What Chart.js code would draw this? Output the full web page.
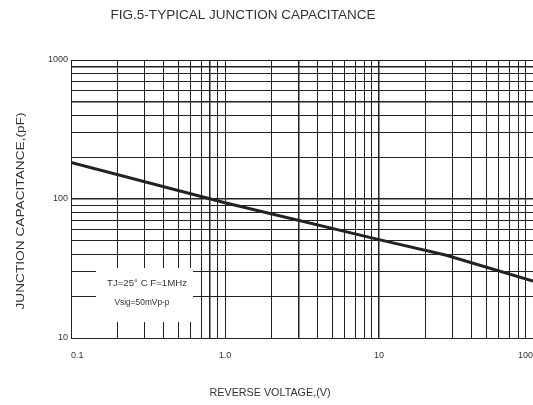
<!DOCTYPE html>
<html>
<head>
<meta charset="utf-8">
<script src="https://cdn.jsdelivr.net/npm/chart.js@4/dist/chart.umd.min.js"></script>
<style>
  html, body { margin: 0; padding: 0; background: #fff; }
  #wrap { width: 533px; height: 405px; position: relative; }
</style>
</head>
<body>
<div id="wrap"><canvas id="capChart"></canvas></div>
<script>
// curve (V, pF)
const voltage = [0.1, 1, 10, 27, 100];
const capacitance = [183, 94, 51, 39.5, 25.7];

// grid lines and labelled ticks
const xTicks = [0.1, 0.2, 0.3, 0.4, 0.5, 0.6, 0.7, 0.8, 0.9,
                1, 2, 3, 4, 5, 6, 7, 8, 9,
                10, 20, 30, 40, 50, 60, 70, 80, 90, 100];
const yTicks = [10, 20, 30, 40, 50, 60, 70, 80, 90,
                100, 200, 300, 400, 500, 600, 700, 800, 900, 1000];
const xLabelValues = [0.1, 1, 10, 100];
const xLabelText = ['0.1', '1.0', '10', '100'];
const yLabelValues = [10, 100, 1000];
const yLabelText = ['10', '100', '1000'];
const heavyX = [0.8, 3, 10];
const heavyY = [900, 500, 100];

const FONT = '"Liberation Sans", Arial, sans-serif';

function stretchText(ctx, text, x, y, size, width, rotate) {
    ctx.save();
    ctx.translate(x, y);
    if (rotate) ctx.rotate(-Math.PI / 2);
    ctx.font = size + 'px ' + FONT;
    const w = ctx.measureText(text).width;
    ctx.scale(width / w, 1);
    ctx.textAlign = 'center';
    ctx.textBaseline = 'middle';
    ctx.fillStyle = '#333';
    ctx.fillText(text, 0, 0);
    ctx.restore();
}

const textPlugin = {
    id: 'figText',
    beforeDatasetsDraw(chart) {
        const ctx = chart.ctx;
        // note box covers the grid
        ctx.save();
        ctx.fillStyle = '#fff';
        ctx.fillRect(96, 268, 97, 54);
        ctx.restore();
        stretchText(ctx, 'TJ=25° C F=1MHz', 147, 284, 9, 80, false);
        stretchText(ctx, 'Vsig=50mVp-p', 142, 303, 8.5, 55, false);
    },
    afterDraw(chart) {
        const ctx = chart.ctx;
        stretchText(ctx, 'FIG.5-TYPICAL JUNCTION CAPACITANCE', 243, 15.5, 12.6, 265, false);
        stretchText(ctx, 'REVERSE VOLTAGE,(V)', 270, 392.5, 11, 121, false);
        stretchText(ctx, 'JUNCTION CAPACITANCE,(pF)', 21, 211, 11, 197, true);
    }
};

const ctx = document.getElementById('capChart').getContext('2d');
const capChart = new Chart(ctx, {
    type: 'line',
    data: {
        datasets: [{
            label: 'Junction capacitance',
            data: voltage.map((v, i) => ({ x: v, y: capacitance[i] })),
            borderColor: '#222',
            borderWidth: 3,
            pointRadius: 0,
            tension: 0,
            fill: false
        }]
    },
    options: {
        responsive: true,
        maintainAspectRatio: false,
        animation: false,
        layout: { padding: { top: 60, left: 0, right: 0, bottom: 37 } },
        plugins: {
            legend: { display: false },
            title: { display: false },
            tooltip: { enabled: false }
        },
        scales: {
            x: {
                type: 'logarithmic',
                min: 0.1,
                max: 100,
                afterBuildTicks: s => { s.ticks = xTicks.map(v => ({ value: v })); },
                afterFit: s => { s.height = 30; s.paddingLeft = 0; s.paddingRight = 0; },
                grid: {
                    color: '#222',
                    lineWidth: c => (c.tick && heavyX.includes(c.tick.value)) ? 1.5 : 1,
                    drawTicks: false
                },
                border: { color: '#222', width: 1 },
                ticks: {
                    autoSkip: false,
                    maxRotation: 0,
                    align: 'inner',
                    padding: 12,
                    color: '#333',
                    font: { family: FONT, size: 9 },
                    callback: v => {
                        const i = xLabelValues.indexOf(v);
                        return i >= 0 ? xLabelText[i] : '';
                    }
                }
            },
            y: {
                type: 'logarithmic',
                min: 10,
                max: 1000,
                afterBuildTicks: s => { s.ticks = yTicks.map(v => ({ value: v })); },
                afterFit: s => { s.width = 71; s.paddingTop = 0; s.paddingBottom = 0; },
                grid: {
                    color: '#222',
                    lineWidth: c => (c.tick && heavyY.includes(c.tick.value)) ? 1.5 : 1,
                    drawTicks: false
                },
                border: { color: '#222', width: 1 },
                ticks: {
                    autoSkip: false,
                    padding: 3,
                    color: '#333',
                    font: { family: FONT, size: 9 },
                    callback: v => {
                        const i = yLabelValues.indexOf(v);
                        return i >= 0 ? yLabelText[i] : '';
                    }
                }
            }
        }
    },
    plugins: [textPlugin]
});
</script>
</body>
</html>
